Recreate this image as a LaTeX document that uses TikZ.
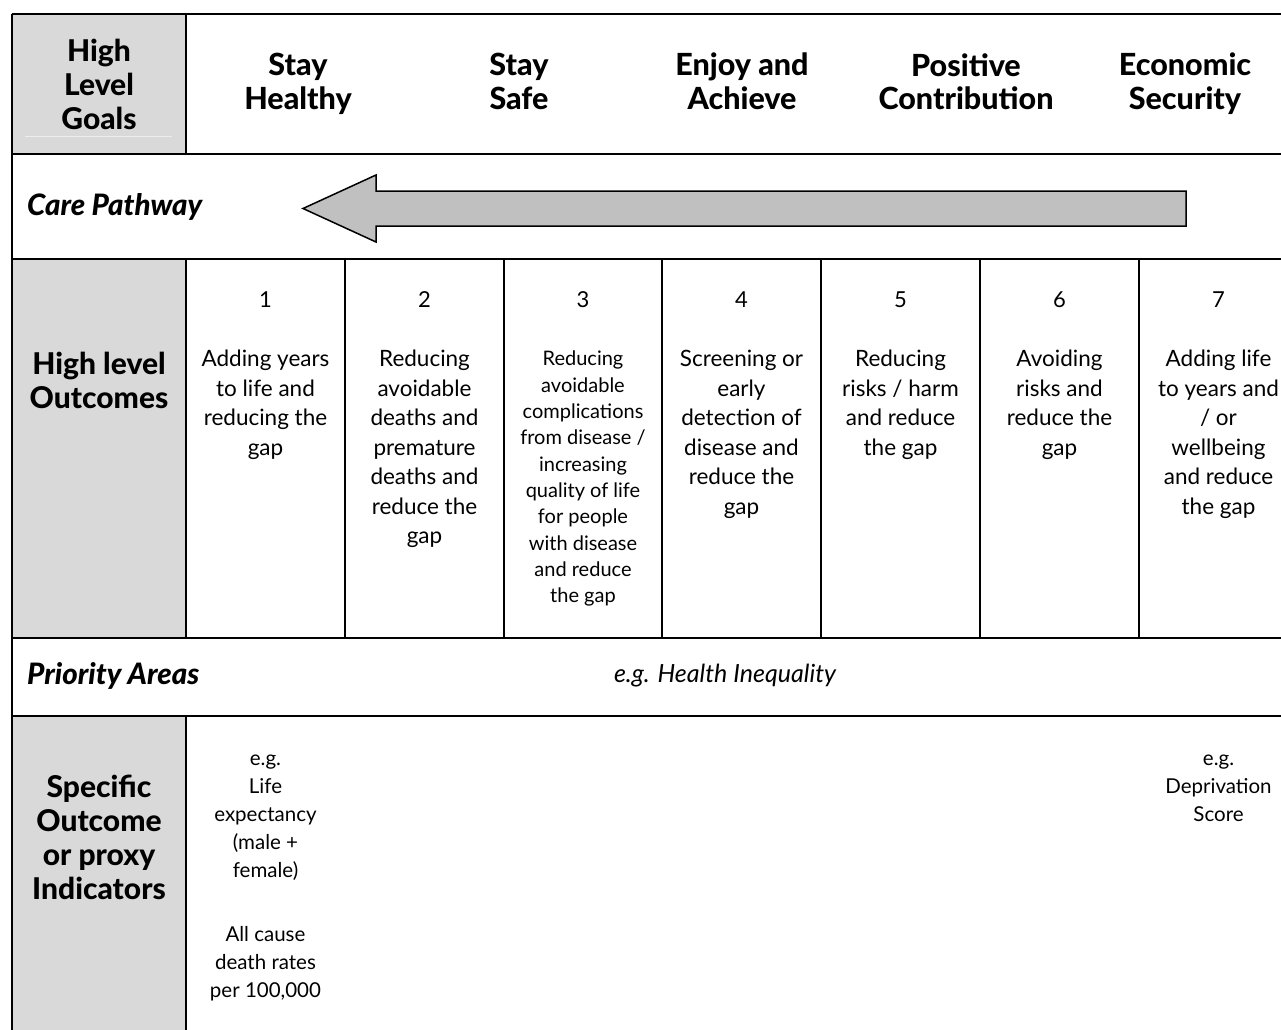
\documentclass[tikz,border=0pt]{standalone}
\usepackage{fontspec}
\setmainfont{Lato}[BoldFont={Lato Heavy},BoldItalicFont={Lato Heavy Italic}]
\definecolor{xgrey}{RGB}{217,217,217}
\definecolor{xarrow}{RGB}{192,192,192}

\begin{document}
\begin{tikzpicture}[x=1pt,y=-1pt]
\tikzset{rule/.style={draw=black,line width=2.6pt}}
\tikzset{colrule/.style={draw=black,line width=2pt}}
\tikzset{side/.style={font=\fontsize{30}{34}\selectfont\bfseries,align=center,inner sep=0}}
\tikzset{goal/.style={font=\fontsize{30.5}{33.5}\selectfont\bfseries,align=center,anchor=north,inner sep=0}}
\tikzset{rowlbl/.style={font=\fontsize{29.5}{30}\selectfont\bfseries\itshape,anchor=west,inner sep=0}}
\tikzset{num/.style={font=\fontsize{22}{28}\selectfont,inner sep=0}}
\tikzset{outc/.style={font=\fontsize{22.5}{29.5}\selectfont,align=center,anchor=north,inner sep=0}}
\tikzset{outcsmall/.style={font=\fontsize{20}{26.3}\selectfont,align=center,anchor=north,inner sep=0}}
\tikzset{indic/.style={font=\fontsize{20.5}{28}\selectfont,align=center,anchor=north,inner sep=0}}
\clip (0,0) rectangle (1281,1029);
\fill[xgrey] (12,14) rectangle (186,154);
\fill[xgrey] (12,259) rectangle (186,638);
\fill[xgrey] (12,716) rectangle (186,1040);
\draw[white!93!black,line width=0.6pt] (25,136) -- (172,136);
\draw[rule] (12,14) -- (1300,14);
\draw[rule] (12,154) -- (1300,154);
\draw[rule] (12,259) -- (1300,259);
\draw[rule] (12,638) -- (1300,638);
\draw[rule] (12,716) -- (1300,716);
\draw[rule] (12,14) -- (12,1040);
\draw[colrule] (186,14) -- (186,154);
\draw[colrule] (186,259) -- (186,638);
\draw[colrule] (186,716) -- (186,1040);
\foreach \x in {345,504,662,821,980,1139}
  \draw[colrule] (\x,259) -- (\x,638);
\node[side] at (99,84) (goals) {High\\Level\\Goals};
\node[goal] at (298,53) (healthy) {Stay\\Healthy};
\node[goal] at (519,53) (safe) {Stay\\Safe};
\node[goal] at (742,53) (enjoy) {Enjoy and\\Achieve};
\node[goal] at (966,53) (positive) {Positive\\Contribution};
\node[goal] at (1185,53) (economic) {Economic\\Security};
\node[rowlbl] at (27,207) (pathway) {Care Pathway};
\draw[draw=black,line width=1.5pt,fill=xarrow,line join=miter]
  (1186,191) -- (376,191) -- (376,175) -- (303,208.5) -- (376,242) -- (376,226) -- (1186,226) -- cycle;
\node[side] at (99,380) (outcomes) {High level\\Outcomes};
\node[num] at (265.5,300) (n1) {1};
\node[num] at (424.5,300) (n2) {2};
\node[num] at (583,300) (n3) {3};
\node[num] at (741.5,300) (n4) {4};
\node[num] at (900.5,300) (n5) {5};
\node[num] at (1059.5,300) (n6) {6};
\node[num] at (1218.5,300) (n7) {7};
\node[outc] at (265.5,350) (o1) {Adding years\\to life and\\reducing the\\gap};
\node[outc] at (424.5,350) (o2) {Reducing\\avoidable\\deaths and\\premature\\deaths and\\reduce the\\gap};
\node[outcsmall] at (583,351) (o3) {Reducing\\avoidable\\complications\\from disease /\\increasing\\quality of life\\for people\\with disease\\and reduce\\the gap};
\node[outc] at (741.5,350) (o4) {Screening or\\early\\detection of\\disease and\\reduce the\\gap};
\node[outc] at (900.5,350) (o5) {Reducing\\risks / harm\\and reduce\\the gap};
\node[outc] at (1059.5,350) (o6) {Avoiding\\risks and\\reduce the\\gap};
\node[outc] at (1218.5,350) (o7) {Adding life\\to years and\\/ or\\wellbeing\\and reduce\\the gap};
\node[rowlbl] at (27,676) (priority) {Priority Areas};
\node[font=\fontsize{25}{30}\selectfont\itshape,inner sep=0] at (725,676) (inequality) {e.g. Health Inequality};
\node[side] at (99,837) (indicators) {Specific\\Outcome\\or proxy\\Indicators};
\node[indic] at (265.5,755) (i1) {e.g.\\Life\\expectancy\\(male +\\female)\\[36pt]All cause\\death rates\\per 100,000};
\node[indic] at (1218.5,755) (i7) {e.g.\\Deprivation\\Score};
\end{tikzpicture}
\end{document}
